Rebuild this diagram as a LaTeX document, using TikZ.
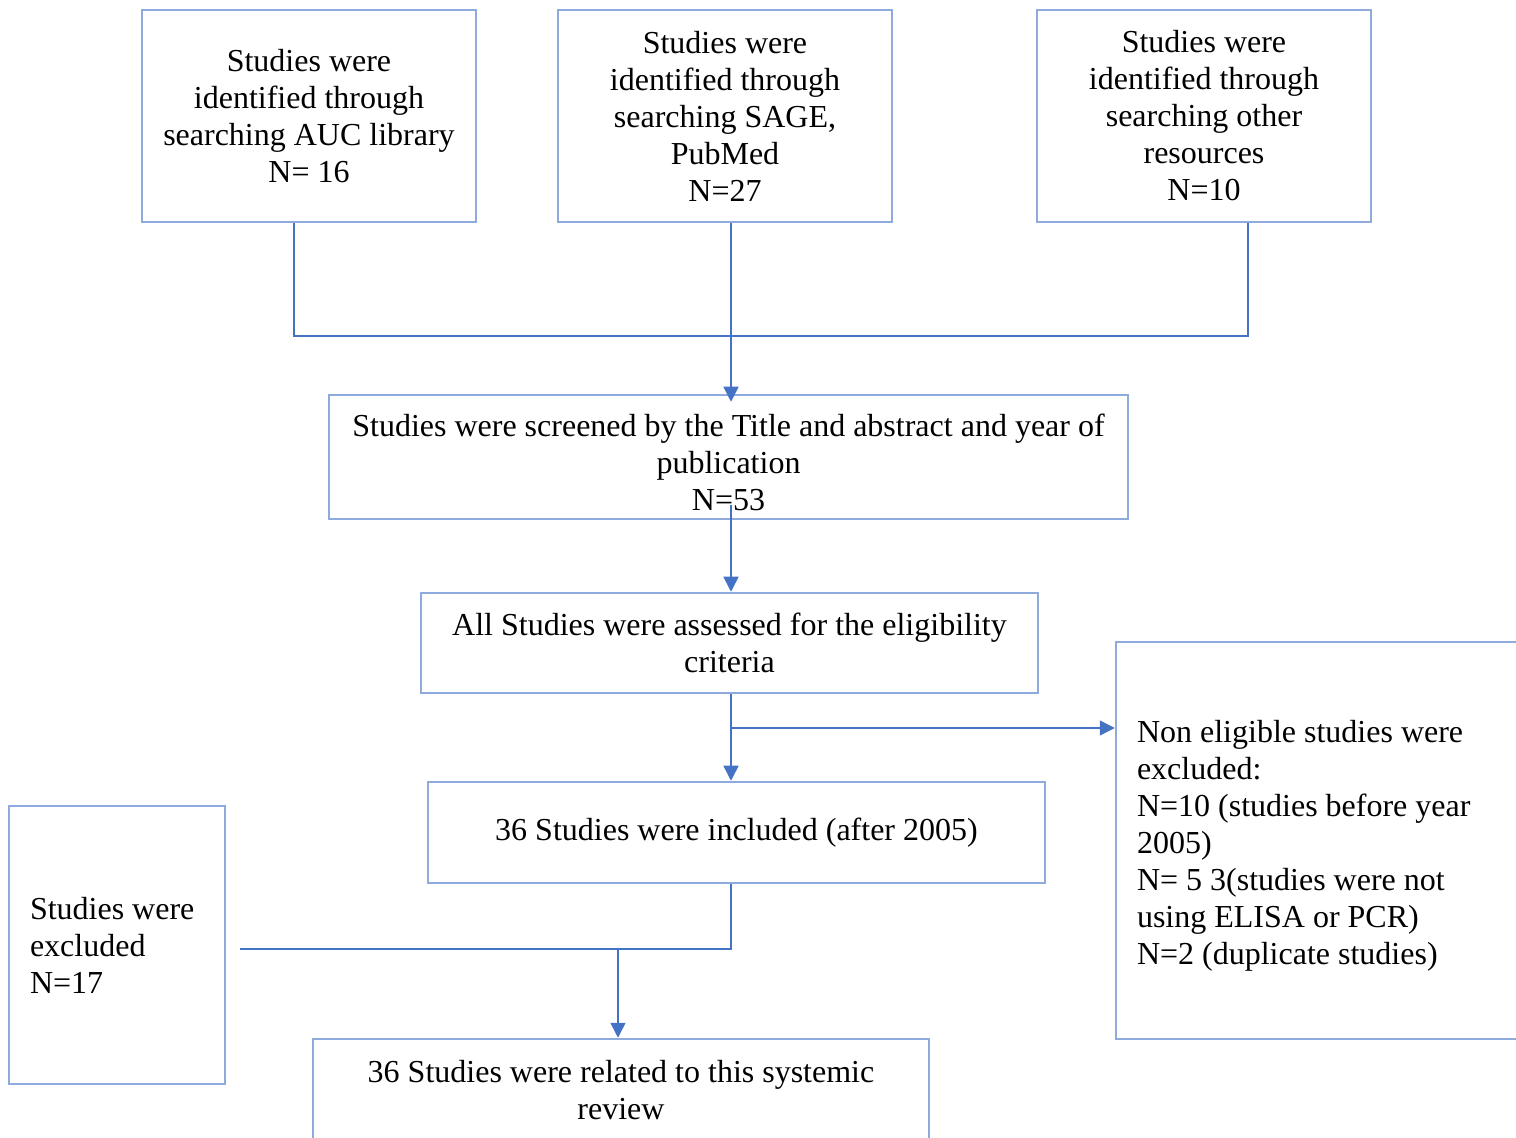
\documentclass[tikz,border=0pt]{standalone}
\usepackage{fontspec}
\setmainfont{Liberation Serif}
\usetikzlibrary{arrows.meta}
\definecolor{boxblue}{HTML}{8FAADC}
\definecolor{lineblue}{HTML}{4472C4}
\begin{document}
\begin{tikzpicture}[x=0.5pt,y=-0.5pt,
  box/.style={draw=boxblue,line width=1.25pt,inner sep=0pt,align=center,
    font=\fontsize{16}{18.5}\selectfont},
  lbox/.style={box,align=flush left},
  conn/.style={draw=lineblue,line width=0.75pt},
  arr/.style={conn,-{Triangle[length=7.5pt,width=7.5pt]}}]
\useasboundingbox (0,0) rectangle (1516,1138);

\node[box,minimum width=167pt,minimum height=106pt] (A) at (309,116)
  {Studies were\\identified through\\searching AUC library\\N= 16};
\node[box,minimum width=167pt,minimum height=106pt] (B) at (725,116)
  {Studies were\\identified through\\searching SAGE,\\PubMed\\N=27};
\node[box,minimum width=167pt,minimum height=106pt] (C) at (1204,116)
  {Studies were\\identified through\\searching other\\resources\\N=10};
\node[box,minimum width=399.5pt,minimum height=62pt] (D) at (728.5,457)
  {\rule{0pt}{17pt}Studies were screened by the Title and abstract and year of\\publication\\N=53};
\node[box,minimum width=308.5pt,minimum height=50pt] (E) at (729.5,643)
  {All Studies were assessed for the eligibility\\criteria};
\node[box,minimum width=308.5pt,minimum height=50.5pt] (F) at (736.5,832.5)
  {36 Studies were included (after 2005)};
\node[lbox,text width=186pt,inner xsep=10.5pt,minimum height=198.5pt] (G) at (1323,840.5)
  {\rule{0pt}{16pt}Non eligible studies were\\excluded:\\N=10 (studies before year\\2005)\\N= 5 3(studies were not\\using ELISA or PCR)\\N=2 (duplicate studies)};
\node[lbox,text width=87pt,inner xsep=10.5pt,minimum height=139pt] (H) at (117,945)
  {Studies were\\excluded\\N=17};
\node[box,minimum width=308pt,minimum height=51pt] (I) at (621,1090)
  {36 Studies were related to this systemic\\review};

\coordinate (j) at (731,336);
\coordinate (c1) at (731,505);
\coordinate (c2) at (731,728);
\coordinate (c3) at (731,949);
\coordinate (c4) at (618,949);
\coordinate (hEnd) at (240,949);

\draw[conn] ([xshift=-7.5pt]A.south) |- ([xshift=22pt]C.south |- j) -- ([xshift=22pt]C.south);
\draw[arr,shorten >=-4pt] ([xshift=3pt]B.south) -- ([xshift=3pt]B.south |- D.north);
\draw[arr] (c1) -- (c1 |- E.north);
\draw[arr] (c1 |- E.south) -- (c1 |- F.north);
\draw[arr] (c2) -- (c2 -| G.west);
\draw[conn] (c1 |- F.south) -- (c3) -- (hEnd);
\draw[arr] (c4) -- (c4 |- I.north);
\end{tikzpicture}
\end{document}
